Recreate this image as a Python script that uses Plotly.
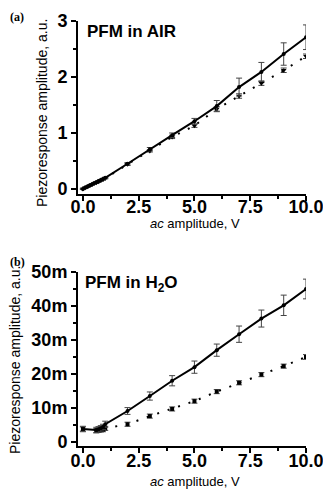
import plotly.graph_objects as go

# ---- Data: panel (a) PFM in AIR ----
v_air = [0, 0.1, 0.2, 0.3, 0.4, 0.5, 0.6, 0.7, 0.8, 0.9, 1.0, 2, 3, 4, 5, 6, 7, 8, 9, 10]
air_solid = [0.0, 0.02, 0.04, 0.06, 0.08, 0.10, 0.12, 0.14, 0.16, 0.18, 0.20,
             0.45, 0.71, 0.96, 1.21, 1.48, 1.82, 2.09, 2.41, 2.71]
air_solid_err = [0.01] * 11 + [0.02, 0.03, 0.04, 0.05, 0.10, 0.16, 0.17, 0.20, 0.22]
air_dot = [0.0, 0.02, 0.04, 0.06, 0.08, 0.10, 0.11, 0.13, 0.15, 0.17, 0.19,
           0.44, 0.68, 0.93, 1.13, 1.43, 1.66, 1.89, 2.12, 2.37]
air_dot_err = [0.01] * 11 + [0.02, 0.02, 0.03, 0.03, 0.04, 0.04, 0.04, 0.04, 0.04]

# ---- Data: panel (b) PFM in H2O ----
v_h2o = [0, 0.6, 0.7, 0.8, 0.9, 1.0, 2, 3, 4, 5, 6, 7, 8, 9, 10]
h2o_solid = [3.8, 3.5, 3.7, 4.0, 4.4, 5.2, 9.1, 13.5, 18.0, 22.0, 27.0, 31.7, 36.3, 40.2, 45.0]
h2o_solid_err = [0.8, 0.8, 0.8, 0.8, 0.8, 0.9, 1.0, 1.2, 1.5, 1.8, 1.8, 2.4, 2.5, 3.0, 2.9]
h2o_dot = [3.8, 3.3, 3.4, 3.5, 3.6, 4.0, 5.2, 7.6, 9.7, 12.0, 14.8, 17.4, 19.8, 22.3, 25.0]
h2o_dot_err = [0.6, 0.6, 0.6, 0.6, 0.6, 0.6, 0.6, 0.6, 0.6, 0.6, 0.6, 0.6, 0.6, 0.6, 0.7]

x_ticks = [0, 2.5, 5, 7.5, 10]
x_ticktext = ["0.0", "2.5", "5.0", "7.5", "10.0"]
air_yticks = [0, 1, 2, 3]
h2o_yticks = [0, 0.01, 0.02, 0.03, 0.04, 0.05]
h2o_yticktext = ["0", "10m", "20m", "30m", "40m", "50m"]

m = 1e-3
h2o_solid_v = [v * m for v in h2o_solid]
h2o_solid_e = [v * m for v in h2o_solid_err]
h2o_dot_v = [v * m for v in h2o_dot]
h2o_dot_e = [v * m for v in h2o_dot_err]

fig = go.Figure()

eb = dict(type="data", thickness=1, width=3, color="#444")
dotdash = "2px,9px"

# panel a
fig.add_trace(go.Scatter(x=v_air, y=air_dot, mode="lines+markers",
                         line=dict(color="black", width=2, dash=dotdash),
                         marker=dict(symbol="triangle-down", size=5, color="black"),
                         error_y=dict(array=air_dot_err, **eb),
                         xaxis="x", yaxis="y", showlegend=False))
fig.add_trace(go.Scatter(x=v_air, y=air_solid, mode="lines+markers",
                         line=dict(color="black", width=2),
                         marker=dict(symbol="circle", size=4, color="black"),
                         error_y=dict(array=air_solid_err, **eb),
                         xaxis="x", yaxis="y", showlegend=False))
# panel b
fig.add_trace(go.Scatter(x=v_h2o, y=h2o_dot_v, mode="lines+markers",
                         line=dict(color="black", width=2, dash=dotdash),
                         marker=dict(symbol="square", size=4, color="black"),
                         error_y=dict(array=h2o_dot_e, **eb),
                         xaxis="x2", yaxis="y2", showlegend=False))
fig.add_trace(go.Scatter(x=v_h2o, y=h2o_solid_v, mode="lines+markers",
                         line=dict(color="black", width=2),
                         marker=dict(symbol="circle", size=4, color="black"),
                         error_y=dict(array=h2o_solid_e, **eb),
                         xaxis="x2", yaxis="y2", showlegend=False))

tickfont = dict(family="Liberation Sans, Arial", size=18, color="black", weight="bold")
common_axis = dict(showline=True, linecolor="black", linewidth=2, ticks="outside",
                   ticklen=5, tickwidth=2, tickcolor="black", showgrid=False,
                   zeroline=False, tickfont=tickfont, automargin=False,
                   ticklabeloverflow="allow")
xminor = dict(ticks="outside", ticklen=3, tickwidth=2, tickcolor="black", dtick=1.25, tick0=0)

xdom = [78 / 323, 306 / 323]
fig.update_layout(
    width=323, height=489,
    margin=dict(l=0, r=0, t=0, b=0),
    paper_bgcolor="white", plot_bgcolor="white",
    xaxis=dict(domain=xdom, range=[-0.22, 10.0], tickvals=x_ticks, ticktext=x_ticktext,
               anchor="y", minor=xminor, ticklabelstandoff=-10, **common_axis),
    yaxis=dict(domain=[(489 - 194) / 489, (489 - 21) / 489], range=[-0.09, 3.0],
               tickvals=air_yticks, anchor="x",
               minor=dict(ticks="outside", ticklen=3, tickwidth=2, tickcolor="black",
                          dtick=0.5, tick0=0),
               **common_axis),
    xaxis2=dict(domain=xdom, range=[-0.22, 10.0], tickvals=x_ticks, ticktext=x_ticktext,
                anchor="y2", minor=xminor, ticklabelstandoff=-8, **common_axis),
    yaxis2=dict(domain=[(489 - 446) / 489, (489 - 272) / 489], range=[-0.0012, 0.05],
                tickvals=h2o_yticks, ticktext=h2o_yticktext, anchor="x2",
                minor=dict(ticks="outside", ticklen=3, tickwidth=2, tickcolor="black",
                           dtick=0.005, tick0=0),
                **common_axis),
)

lab = dict(family="Liberation Sans, Arial", size=13, color="black")
ylab = dict(family="Liberation Sans, Arial", size=14, color="black")
anns = [
    dict(x=17 / 323, y=1 - 17 / 489, text="<b>(a)</b>",
         font=dict(family="Liberation Serif, Times New Roman", size=12, color="black")),
    dict(x=17 / 323, y=1 - 262 / 489, text="<b>(b)</b>",
         font=dict(family="Liberation Serif, Times New Roman", size=12, color="black")),
    dict(x=131 / 323, y=1 - 32 / 489, text="<b>PFM in AIR</b>",
         font=dict(family="Liberation Sans, Arial", size=17, color="black")),
    dict(x=131 / 323, y=1 - 284 / 489, text="<b>PFM in H<sub>2</sub>O</b>",
         font=dict(family="Liberation Sans, Arial", size=17, color="black")),
    dict(x=42 / 323, y=1 - 113 / 489, text="Piezoresponse amplitude, a.u.", textangle=-90, font=ylab),
    dict(x=15 / 323, y=1 - 360 / 489, text="Piezoresponse amplitude, a.u.", textangle=-90, font=ylab),
    dict(x=195 / 323, y=1 - 223 / 489, text="<i>ac</i> amplitude, V", font=lab),
    dict(x=195 / 323, y=1 - 481 / 489, text="<i>ac</i> amplitude, V", font=lab),
]
for a in anns:
    a.update(xref="paper", yref="paper", showarrow=False, xanchor="center", yanchor="middle")
    fig.add_annotation(**a)

fig.write_html("out.html")
